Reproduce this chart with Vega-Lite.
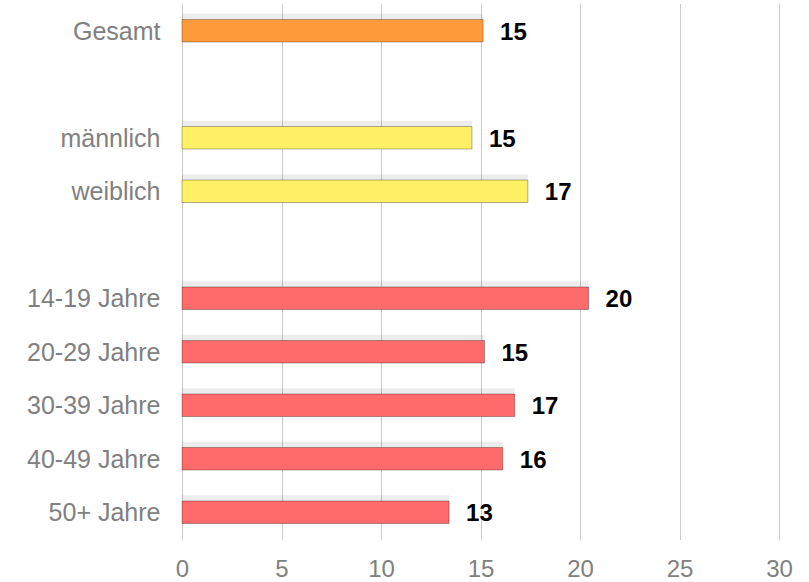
{
  "$schema": "https://vega.github.io/schema/vega-lite/v6.json",
  "autosize": "none",
  "width": 597,
  "height": 535,
  "padding": {"left": 182, "top": 4, "right": 30, "bottom": 43},
  "background": "white",
  "config": {"view": {"stroke": null}, "font": "Liberation Sans"},
  "data": {
    "values": [
      {"cat": "Gesamt", "value": 15.13, "label": "15", "group": "g"},
      {"cat": "männlich", "value": 14.57, "label": "15", "group": "s"},
      {"cat": "weiblich", "value": 17.38, "label": "17", "group": "s"},
      {"cat": "14-19 Jahre", "value": 20.43, "label": "20", "group": "a"},
      {"cat": "20-29 Jahre", "value": 15.2, "label": "15", "group": "a"},
      {"cat": "30-39 Jahre", "value": 16.72, "label": "17", "group": "a"},
      {"cat": "40-49 Jahre", "value": 16.12, "label": "16", "group": "a"},
      {"cat": "50+ Jahre", "value": 13.42, "label": "13", "group": "a"}
    ]
  },
  "encoding": {
    "y": {
      "field": "cat",
      "type": "nominal",
      "scale": {
        "domain": ["Gesamt", " ", "männlich", "weiblich", "  ", "14-19 Jahre", "20-29 Jahre", "30-39 Jahre", "40-49 Jahre", "50+ Jahre"],
        "paddingInner": 0, "paddingOuter": 0
      },
      "axis": {
        "title": null, "domain": false, "ticks": false, "grid": false,
        "labelFontSize": 25, "labelColor": "#808080", "labelPadding": 22, "labelFont": "Liberation Sans", "labelBaseline": "middle", "labelOffset": 1
      }
    },
    "x": {
      "field": "value",
      "type": "quantitative",
      "scale": {"domain": [0, 30], "nice": false},
      "axis": {
        "title": null, "domain": false, "ticks": false,
        "values": [0, 5, 10, 15, 20, 25, 30],
        "grid": true, "gridColor": "#666666", "gridOpacity": 0.7, "gridDash": [1, 1], "gridWidth": 1,
        "labelFontSize": 24, "labelColor": "#808080", "labelPadding": 18, "labelFont": "Liberation Sans",
        "labelFlush": false
      }
    }
  },
  "layer": [
    {
      "mark": {"type": "bar", "height": {"band": 0.52}, "yOffset": -3, "color": "#000", "opacity": 0.07},
      "encoding": {}
    },
    {
      "mark": {"type": "bar", "height": {"band": 0.42}, "stroke": "#000", "strokeOpacity": 0.3, "strokeWidth": 1},
      "encoding": {
        "color": {
          "field": "group", "type": "nominal", "legend": null,
          "scale": {"domain": ["g", "s", "a"], "range": ["#FF9B3A", "#FFF066", "#FF6B6B"]}
        }
      }
    },
    {
      "mark": {"type": "text", "align": "left", "dx": 17, "dy": 2, "fontSize": 24, "fontWeight": "bold", "color": "#000", "font": "Liberation Sans"},
      "encoding": {"text": {"field": "label"}}
    }
  ]
}
